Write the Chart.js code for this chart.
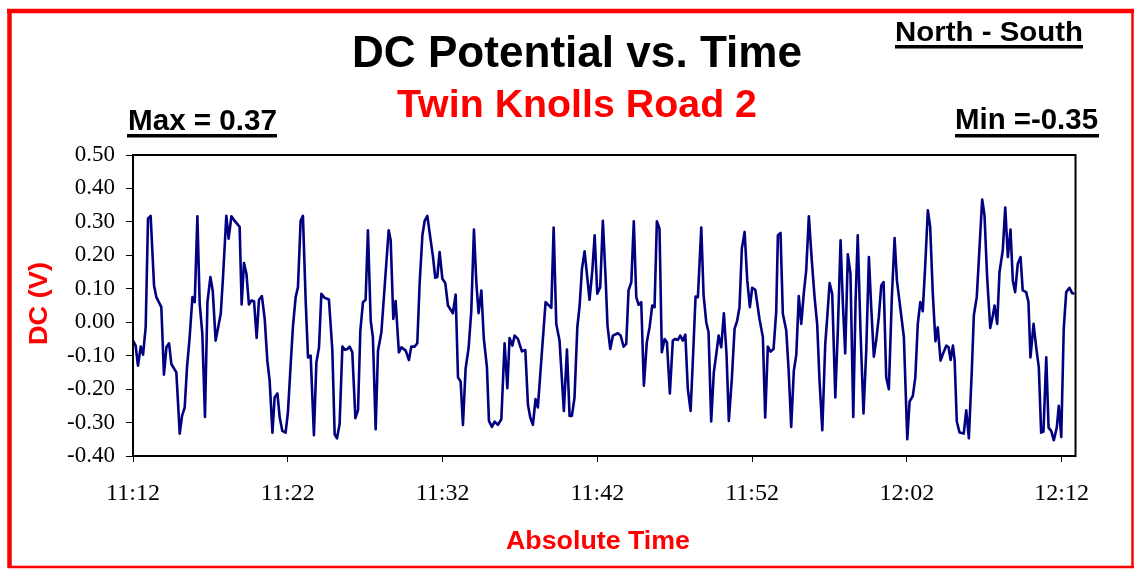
<!DOCTYPE html>
<html>
<head>
<meta charset="utf-8">
<title>DC Potential vs. Time</title>
<script src="https://cdn.jsdelivr.net/npm/chart.js@4.4.1/dist/chart.umd.min.js"></script>
<style>
  html, body { margin: 0; padding: 0; background: #fff; }
  #wrap { width: 1138px; height: 569px; }
</style>
</head>
<body>
<div id="wrap"><canvas id="dcChart" width="1138" height="569"></canvas></div>
<script>
// minutes after 11:12
const timeMin = [
  0.00, 0.17, 0.32, 0.50, 0.65, 0.82, 0.97, 1.14, 1.36, 1.51, 1.83, 2.00, 2.16, 2.33, 2.48, 2.80, 3.02, 3.17, 3.34, 3.49,
  3.66, 3.84, 3.99, 4.16, 4.31, 4.48, 4.65, 4.81, 5.00, 5.15, 5.34, 5.67, 5.81, 6.03, 6.18, 6.36, 6.57, 6.89, 7.02, 7.17,
  7.33, 7.49, 7.65, 7.82, 7.99, 8.14, 8.33, 8.51, 8.68, 8.83, 9.01, 9.15, 9.33, 9.48, 9.65, 9.86,
  10.01, 10.19, 10.34, 10.51, 10.66, 10.83, 10.98, 11.16, 11.31, 11.48, 11.69, 11.85, 12.02, 12.17, 12.38, 12.66, 12.88, 13.03, 13.18, 13.35,
  13.53, 13.68, 13.85, 14.00, 14.17, 14.37, 14.54, 14.69, 14.86, 15.03, 15.18, 15.36, 15.50, 15.68, 15.83, 16.05, 16.32, 16.52, 16.65, 16.82,
  16.97, 17.18, 17.34, 17.62, 17.83, 17.98, 18.20, 18.37, 18.52, 18.70, 18.84, 19.02, 19.21, 19.38, 19.53, 19.66, 19.81, 19.99, 20.18, 20.35,
  20.67, 20.85, 21.00, 21.17, 21.32, 21.49, 21.69, 21.86, 22.03, 22.19, 22.33, 22.51, 22.67, 22.87, 23.00, 23.19, 23.37, 23.58, 23.80, 24.01,
  24.19, 24.33, 24.51, 24.66, 24.87, 25.13, 25.35, 25.52, 25.67, 25.84, 26.01, 26.16, 26.42, 26.66, 27.03, 27.18, 27.35, 27.56, 27.84, 28.04,
  28.21, 28.36, 28.53, 28.71, 28.86, 29.01, 29.18, 29.50, 29.68, 29.83, 30.00, 30.19, 30.36, 30.54, 30.66, 30.84,
  31.01, 31.33, 31.51, 31.70, 31.87, 32.02, 32.20, 32.36, 32.52, 32.67, 32.84, 33.01, 33.20, 33.38, 33.55, 33.70, 33.85, 34.02, 34.17, 34.35,
  34.50, 34.69, 34.88, 35.04, 35.21, 35.36, 35.53, 35.69, 35.85, 36.03, 36.18, 36.35, 36.50, 36.72, 36.87, 37.04, 37.19, 37.36, 37.53, 37.69,
  37.84, 38.01, 38.18, 38.35, 38.50, 38.70, 38.87, 39.04, 39.19, 39.34, 39.52, 39.69, 39.86, 40.01, 40.21, 40.48, 40.70, 40.85,
  41.02, 41.20, 41.39, 41.56, 41.67, 41.84, 41.99, 42.21, 42.36, 42.53, 42.70, 42.86, 43.02, 43.18, 43.35, 43.50, 43.67, 43.86, 44.04, 44.21,
  44.36, 44.54, 44.73, 44.86, 45.01, 45.18, 45.38, 45.55, 45.72, 45.87, 46.02, 46.19, 46.36, 46.54, 46.69, 46.83, 47.01, 47.20, 47.38, 47.55,
  47.70, 47.87, 48.02, 48.19, 48.35, 48.50, 48.67, 48.84, 49.03, 49.21, 49.36, 49.64, 49.81, 50.03, 50.18, 50.39, 50.55, 50.71, 50.87,
  51.03, 51.19, 51.36, 51.51, 51.68, 51.85, 52.00, 52.18, 52.33, 52.55, 52.70, 52.83, 52.98, 53.09, 53.23, 53.41, 53.68, 53.84, 54.01, 54.20,
  54.33, 54.52, 54.70, 54.87, 55.02, 55.19, 55.39, 55.52, 55.67, 55.84, 55.99, 56.20, 56.36, 56.53, 56.70, 56.85, 57.00, 57.17, 57.35, 57.49,
  57.71, 57.86, 57.99, 58.19, 58.36, 58.53, 58.68, 58.83, 59.01, 59.16, 59.33, 59.50, 59.69, 59.82, 59.98, 60.14, 60.30, 60.51, 60.68, 60.83
];

// DC potential (V)
const dcValues = [
  -0.055, -0.07, -0.13, -0.073, -0.097, -0.015, 0.31, 0.318, 0.11, 0.075, 0.045, -0.157, -0.075, -0.063, -0.125, -0.15, -0.333, -0.28, -0.255, -0.135,
  -0.045, 0.075, 0.06, 0.317, 0.055, -0.035, -0.283, 0.06, 0.135, 0.095, -0.055, 0.025, 0.13, 0.318, 0.25, 0.317, 0.303, 0.285, 0.053, 0.177,
  0.145, 0.053, 0.065, 0.063, -0.047, 0.067, 0.078, 0.01, -0.115, -0.175, -0.33, -0.225, -0.213, -0.285, -0.325, -0.33,
  -0.27, -0.125, -0.01, 0.075, 0.105, 0.303, 0.318, 0.06, -0.105, -0.1, -0.338, -0.12, -0.075, 0.085, 0.073, 0.068, -0.083, -0.335, -0.347, -0.305,
  -0.073, -0.082, -0.08, -0.073, -0.09, -0.287, -0.263, -0.025, 0.06, 0.067, 0.275, 0.005, -0.045, -0.32, -0.085, -0.03, 0.145, 0.275, 0.245, 0.01,
  0.063, -0.09, -0.075, -0.085, -0.113, -0.073, -0.073, -0.063, 0.115, 0.26, 0.302, 0.318, 0.253, 0.197, 0.133, 0.135, 0.21, 0.13, 0.117, 0.05,
  0.027, 0.083, -0.165, -0.177, -0.307, -0.14, -0.075, 0.035, 0.277, 0.115, 0.027, 0.095, -0.05, -0.135, -0.295, -0.313, -0.297, -0.307, -0.29, -0.063,
  -0.197, -0.047, -0.07, -0.04, -0.05, -0.087, -0.083, -0.247, -0.285, -0.307, -0.23, -0.255, -0.09, 0.06, 0.043, 0.283, -0.005, -0.055, -0.265, -0.082,
  -0.28, -0.28, -0.225, -0.015, 0.05, 0.16, 0.212, 0.067, 0.155, 0.26, 0.085, 0.105, 0.303, 0.13, -0.01, -0.08,
  -0.04, -0.033, -0.04, -0.073, -0.065, 0.095, 0.12, 0.302, 0.075, 0.052, 0.06, -0.19, -0.06, -0.015, 0.05, 0.045, 0.302, 0.28, -0.09, -0.05,
  -0.06, -0.213, -0.055, -0.05, -0.053, -0.04, -0.055, -0.037, -0.2, -0.265, -0.11, 0.077, 0.075, 0.283, 0.08, 0.0, -0.03, -0.297, -0.15, -0.095,
  -0.04, -0.075, 0.027, -0.095, -0.295, -0.165, -0.02, 0.005, 0.045, 0.22, 0.27, 0.125, 0.045, 0.103, 0.097, 0.01, -0.045, -0.285,
  -0.073, -0.088, -0.08, 0.03, 0.26, 0.267, 0.025, -0.025, -0.14, -0.313, -0.145, -0.097, 0.078, -0.005, 0.09, 0.155, 0.317, 0.185, 0.075, -0.007,
  -0.175, -0.323, -0.065, 0.015, 0.117, 0.085, -0.225, -0.015, 0.245, 0.055, -0.093, 0.203, 0.145, -0.283, 0.065, 0.26, -0.03, -0.273, -0.085, 0.195,
  0.045, -0.103, -0.055, 0.015, 0.11, 0.12, -0.165, -0.2, 0.07, 0.252, 0.125, 0.02, -0.045, -0.35, -0.237, -0.22, -0.165, -0.005, 0.06,
  0.033, 0.17, 0.335, 0.285, 0.085, -0.057, -0.015, -0.115, -0.095, -0.07, -0.075, -0.113, -0.07, -0.113, -0.297, -0.33, -0.333, -0.263, -0.347, -0.145,
  0.02, 0.075, 0.225, 0.367, 0.32, 0.135, -0.017, 0.01, 0.05, -0.005, 0.15, 0.215, 0.343, 0.195, 0.277, 0.125, 0.09, 0.175, 0.195, 0.095,
  0.09, 0.06, -0.105, -0.005, -0.075, -0.135, -0.33, -0.327, -0.105, -0.315, -0.325, -0.353, -0.315, -0.25, -0.343, -0.02, 0.09, 0.103, 0.087, 0.085
];

const tickMinutes = [0, 10, 20, 30, 40, 50, 60];
const tickLabels = ["11:12", "11:22", "11:32", "11:42", "11:52", "12:02", "12:12"];

const SANS = '"Liberation Sans", Arial, sans-serif';
const SERIF = '"Liberation Serif", "Times New Roman", serif';

const points = [];
for (let i = 0; i < Math.min(timeMin.length, dcValues.length); i++) {
  points.push({ x: timeMin[i], y: dcValues[i] });
}

// draw text squeezed/stretched to a given width
function fitText(ctx, text, left, baseline, width, font, color) {
  ctx.font = font;
  ctx.fillStyle = color;
  ctx.textAlign = "left";
  ctx.textBaseline = "alphabetic";
  const w = ctx.measureText(text).width;
  ctx.save();
  ctx.translate(left, baseline);
  ctx.scale(width / w, 1);
  ctx.fillText(text, 0, 0);
  ctx.restore();
}

const decor = {
  id: "decor",
  afterDraw(chart) {
    const ctx = chart.ctx;
    const a = chart.chartArea;
    ctx.save();

    // plot frame
    ctx.strokeStyle = "#000";
    ctx.lineWidth = 2;
    ctx.strokeRect(a.left, a.top, a.right - a.left, a.bottom - a.top);

    // red outer frame
    ctx.strokeStyle = "#ff0000";
    ctx.lineWidth = 4.5;
    ctx.beginPath();
    ctx.moveTo(7, 11); ctx.lineTo(1134, 11);
    ctx.moveTo(9.5, 9); ctx.lineTo(9.5, 568);
    ctx.stroke();
    ctx.lineWidth = 2.5;
    ctx.beginPath();
    ctx.moveTo(1132.5, 9); ctx.lineTo(1132.5, 568);
    ctx.moveTo(8, 567); ctx.lineTo(1134, 567);
    ctx.stroke();

    // titles
    fitText(ctx, "DC Potential vs. Time", 352, 67, 450, "bold 44px " + SANS, "#000");
    fitText(ctx, "Twin Knolls Road 2", 397, 117, 360, "bold 38px " + SANS, "#ff0000");

    // corner notes with underline
    ctx.fillStyle = "#000";
    fitText(ctx, "North - South", 895, 41, 188, "bold 27px " + SANS, "#000");
    ctx.fillRect(895, 45, 188, 3.5);
    fitText(ctx, "Max = 0.37", 128, 130, 149, "bold 29px " + SANS, "#000");
    ctx.fillRect(127, 134, 150, 3.5);
    fitText(ctx, "Min =-0.35", 955, 129, 143, "bold 29px " + SANS, "#000");
    ctx.fillRect(955, 134, 144, 3.5);

    // axis titles
    fitText(ctx, "Absolute Time", 506, 549, 184, "bold 25px " + SANS, "#ff0000");
    ctx.save();
    ctx.translate(47, 345);
    ctx.rotate(-Math.PI / 2);
    fitText(ctx, "DC (V)", 0, 0, 83, "bold 26px " + SANS, "#ff0000");
    ctx.restore();

    ctx.restore();
  }
};

new Chart(document.getElementById("dcChart"), {
  type: "line",
  data: {
    datasets: [{
      label: "DC",
      data: points,
      borderColor: "#000080",
      borderWidth: 2.6,
      borderJoinStyle: "round",
      pointRadius: 0,
      tension: 0,
      fill: false
    }]
  },
  options: {
    responsive: false,
    animation: false,
    events: [],
    layout: { padding: { left: 0, top: 155, right: 62.5, bottom: 0 } },
    plugins: {
      legend: { display: false },
      title: { display: false },
      tooltip: { enabled: false }
    },
    scales: {
      x: {
        type: "linear",
        min: 0,
        max: 60.9,
        afterBuildTicks: (scale) => {
          scale.ticks = tickMinutes.map((v) => ({ value: v }));
        },
        afterFit: (scale) => { scale.height = 113; },
        ticks: {
          color: "#000",
          font: { family: SERIF, size: 24 },
          padding: 17,
          maxRotation: 0,
          autoSkip: false,
          callback: (v) => tickLabels[tickMinutes.indexOf(v)] || ""
        },
        grid: { drawOnChartArea: false, drawTicks: true, tickLength: 6, color: "#000" },
        border: { display: true, color: "#000", width: 2 }
      },
      y: {
        min: -0.4,
        max: 0.5,
        afterFit: (scale) => { scale.width = 133; },
        ticks: {
          stepSize: 0.1,
          color: "#000",
          font: { family: SERIF, size: 23 },
          padding: 11,
          callback: (v) => (Math.abs(v) < 1e-9 ? 0 : v).toFixed(2)
        },
        grid: { drawOnChartArea: false, drawTicks: true, tickLength: 7, color: "#000" },
        border: { display: true, color: "#000", width: 2 }
      }
    }
  },
  plugins: [decor]
});
</script>
</body>
</html>
